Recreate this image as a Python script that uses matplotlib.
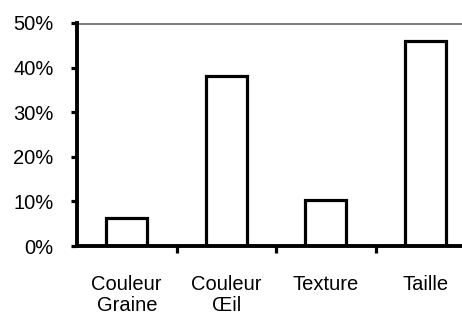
import matplotlib.pyplot as plt
from matplotlib.ticker import PercentFormatter, FixedLocator, NullFormatter

categories = ['Couleur\nGraine', 'Couleur\nŒil', 'Texture', 'Taille']
values = [6.2, 38.1, 10.3, 46.0]
y_ticks = [0, 10, 20, 30, 40, 50]

plt.rcParams['font.family'] = ['Liberation Sans', 'DejaVu Sans']

fig = plt.figure(figsize=(4.62, 3.16), dpi=100)
ax = fig.add_axes([77 / 462, 1 - 246 / 316, 398 / 462, 223 / 316])

x = range(len(categories))
ax.bar(x, values, width=0.41, color='white', edgecolor='black', linewidth=2.3)

ax.set_xlim(-0.5, len(categories) - 0.5)
ax.set_ylim(0, 50)
ax.set_yticks(y_ticks)
ax.yaxis.set_major_formatter(PercentFormatter(decimals=0))

ax.set_xticks(list(x))
ax.set_xticklabels(categories, fontsize=14.5, linespacing=1.15)
ax.tick_params(axis='x', which='major', length=0, pad=21)
ax.xaxis.set_minor_locator(FixedLocator([0.5, 1.5, 2.5]))
ax.xaxis.set_minor_formatter(NullFormatter())
ax.tick_params(axis='x', which='minor', length=5, width=2.3, direction='out')
ax.tick_params(axis='y', length=4, width=2.3, direction='out', labelsize=14.5, pad=13)

ax.axhline(50, color='#808080', linewidth=2.2, zorder=0)

for side in ['top', 'right']:
    ax.spines[side].set_visible(False)
for side in ['left', 'bottom']:
    ax.spines[side].set_linewidth(2.8)
    ax.spines[side].set_color('black')

fig.savefig('out.png', dpi=100)
